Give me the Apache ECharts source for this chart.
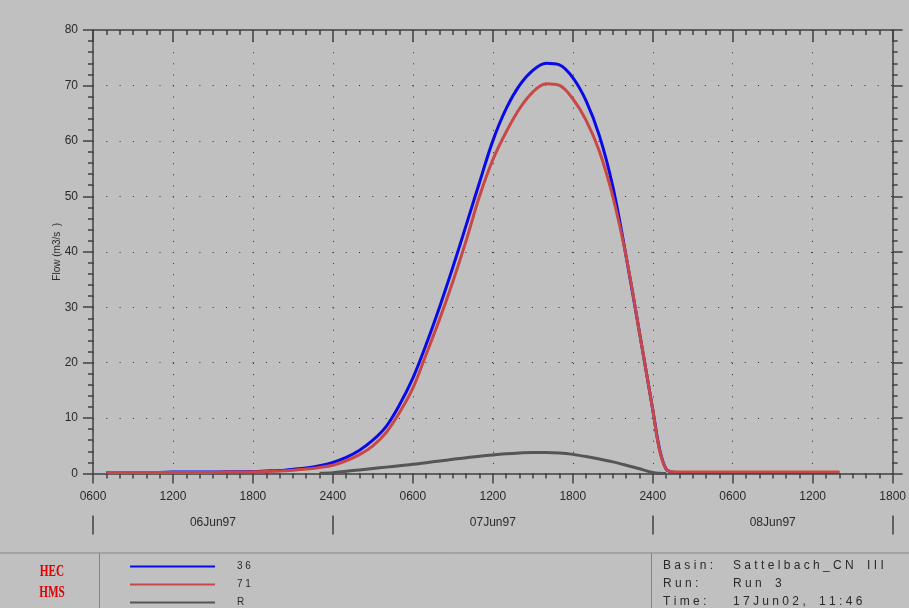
<!DOCTYPE html>
<html>
<head>
<meta charset="utf-8">
<script src="https://cdn.jsdelivr.net/npm/echarts@6/dist/echarts.min.js"></script>
<style>
html,body{margin:0;padding:0;background:#c0c0c0;}
#chart{width:909px;height:608px;}
</style>
</head>
<body>
<div id="chart"></div>
<script>
// ---- data (x = hours since 06Jun97 00:00) ----
const hours = [7,8,9,10,11,12,13,14,15,16,17,18,19,20,21,22,23,24,25,26,27,28,29,30,31,32,33,34,35,36,37,38,39,40,41,42,43,44,45,46,47,48,48.5,49,49.5,50,51,52,53,54,55,56,57,58,59,60,61,62];
const flow36 = [0.2,0.2,0.2,0.2,0.2,0.25,0.25,0.25,0.25,0.3,0.3,0.35,0.45,0.55,0.75,1.0,1.4,2.0,2.9,4.2,6.0,8.5,12.4,17.2,23.3,30.0,37.2,44.8,52.5,60.0,65.8,70.0,72.7,74.0,73.7,71.4,67.2,60.9,51.8,39.2,25.5,11.5,4.5,0.8,0.25,0.2,0.2,0.2,0.2,0.2,0.2,0.2,0.2,0.2,0.2,0.2,0.2,0.2];
const flow71 = [0.2,0.2,0.2,0.2,0.2,0.2,0.2,0.2,0.2,0.25,0.25,0.3,0.35,0.45,0.6,0.8,1.1,1.5,2.3,3.4,5.0,7.4,11.0,15.4,21.5,27.8,34.6,42.0,50.0,56.6,61.6,65.8,68.8,70.3,70.0,67.6,63.7,58.1,50.0,39.2,25.5,11.5,4.3,0.8,0.3,0.25,0.25,0.25,0.25,0.25,0.25,0.25,0.25,0.25,0.25,0.25,0.25,0.25];
const hoursR = [23,24,25,26,27,28,29,30,31,32,33,34,35,36,37,38,39,40,41,42,43,44,45,46,47,48,48.5,49];
const flowR = [0.05,0.15,0.4,0.65,0.9,1.15,1.4,1.65,1.95,2.25,2.55,2.85,3.1,3.35,3.55,3.7,3.8,3.8,3.7,3.45,3.05,2.6,2.1,1.5,0.85,0.2,0.05,0];

const seriesNames = ['36','71','R'];
const seriesColors = ['#0a0ae6','#c84848','#555555'];
const xTickLabels = ['0600','1200','1800','2400','0600','1200','1800','2400','0600','1200','1800'];
const dayLabels = ['06Jun97','07Jun97','08Jun97'];
const dayCenters = [15,36,57];
const dayBounds = [6,24,48,66];
const yTitle = 'Flow (m3/s  )';
const logoLines = ['HEC','HMS'];
const infoLabels = ['Basin:','Run:','Time:'];
const infoValues = ['Sattelbach_CN III','Run 3','17Jun02, 11:46'];

const X_MIN = 6, X_MAX = 66, X_STEP = 6;

function pairs(xs, ys){ return xs.map((x,i)=>[x, ys[i]]); }
function spaced(s){ return s.split('').map(c => c === ' ' ? '  ' : c).join(' '); }

const axisCol = '#404040';
const textCol = '#2a2a2a';
const font = 'Liberation Sans, Arial, sans-serif';

const chart = echarts.init(document.getElementById('chart'), null, {renderer:'canvas'});

const baseX = { type:'value', min:X_MIN, max:X_MAX, interval:X_STEP };
const hidden = {axisLine:{show:false}, axisLabel:{show:false}, splitLine:{show:false}, minorTick:{show:false}};

const graphic = [
  {type:'line', shape:{x1:0,y1:553,x2:909,y2:553}, style:{stroke:'#858585',lineWidth:1}},
  {type:'line', shape:{x1:99.5,y1:553,x2:99.5,y2:608}, style:{stroke:'#858585',lineWidth:1}},
  {type:'line', shape:{x1:651.5,y1:553,x2:651.5,y2:608}, style:{stroke:'#858585',lineWidth:1}}
];
logoLines.forEach((t,i)=>{
  graphic.push({type:'text', x:52, y:572 + i*21, scaleX:0.66,
    style:{text:t, x:0, y:0, fill:'#e00000', font:'bold 17px "Liberation Serif", "Times New Roman", serif', textAlign:'center', textVerticalAlign:'middle'}});
});
infoLabels.forEach((t,i)=>{
  const y = 566 + i*17.6;
  graphic.push({type:'text', style:{text:spaced(t), x:663, y:y, fill:textCol, font:'12px '+font, textVerticalAlign:'middle'}});
  graphic.push({type:'text', style:{text:spaced(infoValues[i]), x:733, y:y, fill:textCol, font:'12px '+font, textVerticalAlign:'middle'}});
});

const legends = seriesNames.map((n,i)=>({
  data:[n], orient:'vertical', left:125, top:555.5 + i*18,
  icon:'rect', itemWidth:85, itemHeight:2,
  formatter: s => s.split('').join(' '),
  textStyle:{color:textCol, fontSize:10, fontFamily:font, lineHeight:12, padding:[0,0,0,17]},
  selectedMode:false
}));

chart.setOption({
  backgroundColor:'#c0c0c0',
  animation:false,
  grid:{left:93, right:15, top:30, bottom:134.5, containLabel:false},
  legend:legends,
  xAxis:[
    Object.assign({}, baseX, {
      position:'bottom',
      axisLine:{show:true, onZero:false, lineStyle:{color:axisCol, width:1.5}},
      axisTick:{show:true, inside:false, length:10, lineStyle:{color:axisCol, width:1.5}},
      minorTick:{show:true, splitNumber:6, length:5, lineStyle:{color:axisCol, width:1.5}},
      axisLabel:{show:true, margin:17, color:textCol, fontSize:12, fontFamily:font,
        showMinLabel:true, showMaxLabel:true,
        formatter: v => xTickLabels[Math.round((v - X_MIN)/X_STEP)]},
      splitLine:{show:true, lineStyle:{color:'#303030', width:1, type:[1,10.1]}}
    }),
    // top frame: major ticks inward
    Object.assign({}, baseX, {
      position:'top',
      axisLine:{show:true, onZero:false, lineStyle:{color:axisCol, width:1.5}},
      axisTick:{show:true, inside:true, length:12, lineStyle:{color:axisCol, width:1.5}},
      minorTick:{show:false},
      axisLabel:{show:false},
      splitLine:{show:false}
    }),
    // top frame: hourly minor ticks inward
    Object.assign({}, baseX, hidden, {
      position:'top', interval:1,
      axisLine:{show:true, onZero:false, lineStyle:{color:axisCol, width:1.5, opacity:0}},
      axisTick:{show:true, inside:true, length:5, lineStyle:{color:axisCol, width:1.5}}
    }),
    // day row
    Object.assign({}, baseX, {
      position:'bottom', offset:42,
      axisLine:{show:true, onZero:false, lineStyle:{color:axisCol, width:1, opacity:0}},
      axisTick:{show:true, inside:false, length:19, customValues:dayBounds, lineStyle:{color:axisCol, width:1.5}},
      axisLabel:{show:true, margin:1, customValues:dayCenters, color:textCol, fontSize:12, fontFamily:font,
        formatter: v => dayLabels[dayCenters.indexOf(v)]},
      minorTick:{show:false},
      splitLine:{show:false}
    })
  ],
  yAxis:[
    {
      type:'value', min:0, max:80, interval:10, position:'left',
      name:yTitle, nameLocation:'middle', nameGap:31, nameMoveOverlap:false,
      nameTextStyle:{color:textCol, fontSize:10, fontFamily:font},
      axisLine:{show:true, onZero:false, lineStyle:{color:axisCol, width:1.5}},
      axisTick:{show:true, inside:false, length:10, lineStyle:{color:axisCol, width:1.5}},
      minorTick:{show:true, splitNumber:5, length:5, lineStyle:{color:axisCol, width:1.5}},
      axisLabel:{show:true, margin:15, color:textCol, fontSize:12, fontFamily:font},
      splitLine:{show:true, lineStyle:{color:'#303030', width:1, type:[1,12.3]}}
    },
    {
      type:'value', min:0, max:80, interval:10, position:'right',
      axisLine:{show:true, onZero:false, lineStyle:{color:axisCol, width:1.5}},
      axisTick:{show:true, inside:false, length:10, lineStyle:{color:axisCol, width:1.5}},
      minorTick:{show:true, splitNumber:5, length:5, lineStyle:{color:axisCol, width:1.5}},
      axisLabel:{show:false},
      splitLine:{show:false}
    }
  ],
  series:[
    {name:seriesNames[0], type:'line', xAxisIndex:0, yAxisIndex:0, data:pairs(hours, flow36),
      showSymbol:false, symbol:'none', smooth:0.35, z:3,
      lineStyle:{color:seriesColors[0], width:3}, itemStyle:{color:seriesColors[0]}},
    {name:seriesNames[1], type:'line', xAxisIndex:0, yAxisIndex:0, data:pairs(hours, flow71),
      showSymbol:false, symbol:'none', smooth:0.35, z:4,
      lineStyle:{color:seriesColors[1], width:3}, itemStyle:{color:seriesColors[1]}},
    {name:seriesNames[2], type:'line', xAxisIndex:0, yAxisIndex:0, data:pairs(hoursR, flowR),
      showSymbol:false, symbol:'none', smooth:0.35, z:2,
      lineStyle:{color:seriesColors[2], width:3}, itemStyle:{color:seriesColors[2]}}
  ],
  graphic: graphic
});
</script>
</body>
</html>
